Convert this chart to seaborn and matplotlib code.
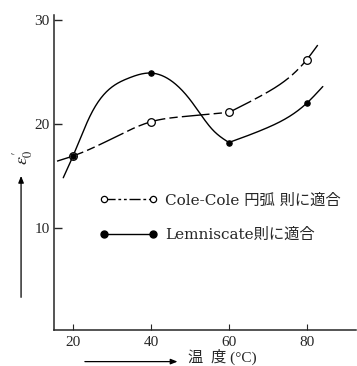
import numpy as np
import matplotlib
matplotlib.use("Agg")
import matplotlib.pyplot as plt
from matplotlib.lines import Line2D
import seaborn as sns

# ---- data ----
temps = [20, 40, 60, 80]
cole_vals = [16.9, 20.2, 21.1, 26.2]
lem_vals = [16.9, 24.9, 18.2, 22.0]

# points (free ends included); each curve is
# drawn as two smooth pieces that meet at the 60 °C point
cole_trace1_x = [15.9, 20, 29.9, 40, 48.3, 60]
cole_trace1_y = [16.4, 16.9, 18.55, 20.2, 20.7, 21.1]
cole_trace2_x = [60, 68.7, 80, 82.8]
cole_trace2_y = [21.1, 22.8, 26.2, 27.6]
lem_trace1_x = [17.5, 20, 24.7, 34.2, 40, 50.1, 55.9, 60]
lem_trace1_y = [14.8, 16.9, 21.0, 24.4, 24.9, 22.3, 19.4, 18.2]
lem_trace2_x = [60, 69.7, 80, 84.1]
lem_trace2_y = [18.2, 19.6, 22.0, 23.6]

x_ticks = [20, 40, 60, 80]
y_ticks = [10, 20, 30]
legend_labels = ["Cole-Cole 円弧 則に適合", "Lemniscate則に適合"]
xlabel_text = "温  度 (°C)"


def natural_spline(xs, ys, n=300):
    xs = np.asarray(xs, float)
    ys = np.asarray(ys, float)
    m = len(xs)
    h = np.diff(xs)
    A = np.zeros((m, m))
    b = np.zeros(m)
    A[0, 0] = A[-1, -1] = 1
    for i in range(1, m - 1):
        A[i, i - 1] = h[i - 1]
        A[i, i] = 2 * (h[i - 1] + h[i])
        A[i, i + 1] = h[i]
        b[i] = 3 * ((ys[i + 1] - ys[i]) / h[i] - (ys[i] - ys[i - 1]) / h[i - 1])
    c = np.linalg.solve(A, b)
    xx = np.linspace(xs[0], xs[-1], n)
    yy = np.empty_like(xx)
    for k, x in enumerate(xx):
        i = int(np.clip(np.searchsorted(xs, x, side="right") - 1, 0, m - 2))
        dx = x - xs[i]
        bi = (ys[i + 1] - ys[i]) / h[i] - h[i] * (2 * c[i] + c[i + 1]) / 3
        di = (c[i + 1] - c[i]) / (3 * h[i])
        yy[k] = ys[i] + bi * dx + c[i] * dx ** 2 + di * dx ** 3
    return xx, yy


def joined(x1, y1, x2, y2):
    a, b = natural_spline(x1, y1)
    c, d = natural_spline(x2, y2)
    return np.concatenate([a, c[1:]]), np.concatenate([b, d[1:]])


sns.set_style("ticks")
plt.rcParams["font.family"] = ["Liberation Serif", "Noto Sans CJK JP", "DejaVu Sans"]
plt.rcParams["mathtext.fontset"] = "stix"

fig = plt.figure(figsize=(3.57, 3.66), dpi=100)
ax = fig.add_axes([0.151, 0.098, 0.846, 0.861])

cole_dash = (0, (20, 3, 6, 3))

cx, cy = joined(cole_trace1_x, cole_trace1_y, cole_trace2_x, cole_trace2_y)
lx, ly = joined(lem_trace1_x, lem_trace1_y, lem_trace2_x, lem_trace2_y)
sns.lineplot(x=cx, y=cy, ax=ax, color="black", lw=1.0, sort=False)
ax.lines[-1].set_linestyle(cole_dash)
sns.lineplot(x=lx, y=ly, ax=ax, color="black", lw=1.0, sort=False)

ax.plot(temps, cole_vals, "o", ms=5.5, mfc="white", mec="black", mew=0.9, zorder=5)
ax.plot(temps, lem_vals, "o", ms=3.8, mfc="black", mec="black", mew=0.9, zorder=6)

ax.set_xlim(15.1, 92.6)
ax.set_ylim(0.1, 30.5)
ax.set_xticks(x_ticks)
ax.set_yticks(y_ticks)
ax.tick_params(axis="y", direction="in", length=6, width=1, labelsize=11, pad=3)
ax.tick_params(axis="x", direction="in", length=4, width=0.8, labelsize=11, pad=4)
for s in ["top", "right"]:
    ax.spines[s].set_visible(False)
for s in ["left", "bottom"]:
    ax.spines[s].set_linewidth(1.1)
ax.set_xlabel("")
ax.set_ylabel("")

handles = [
    Line2D([], [], color="black", lw=1.0, linestyle=(0, (8, 2, 2, 2, 2, 2)),
           marker="o", ms=4.5, mfc="white", mec="black", mew=0.9),
    Line2D([], [], color="black", lw=1.0, marker="o", ms=5, mfc="black",
           mec="black", mew=1.0),
]
leg = ax.legend(handles, legend_labels, loc="upper left", bbox_to_anchor=(0.152, 0.433),
                frameon=False, numpoints=2, handlelength=3.8, handletextpad=0.45,
                labelspacing=1.3, borderpad=0, borderaxespad=0,
                prop={"family": ["DejaVu Serif", "Noto Sans CJK JP"], "size": 11})

# y label with arrow
fig.text(0.064, 0.571, r"$\varepsilon_0'$", rotation=90, ha="center", va="center",
         fontsize=13)
fig.add_artist(matplotlib.patches.FancyArrowPatch(
    (0.059, 0.180), (0.059, 0.527), transform=fig.transFigure,
    arrowstyle="-|>,head_length=4,head_width=1.6", color="black", lw=0.9))

# x label with arrow
fig.add_artist(matplotlib.patches.FancyArrowPatch(
    (0.230, 0.012), (0.505, 0.012), transform=fig.transFigure,
    arrowstyle="-|>,head_length=4,head_width=1.6", color="black", lw=0.9))
fig.text(0.527, 0.024, xlabel_text, ha="left", va="center", fontsize=11)

fig.savefig("out.png", dpi=100)
